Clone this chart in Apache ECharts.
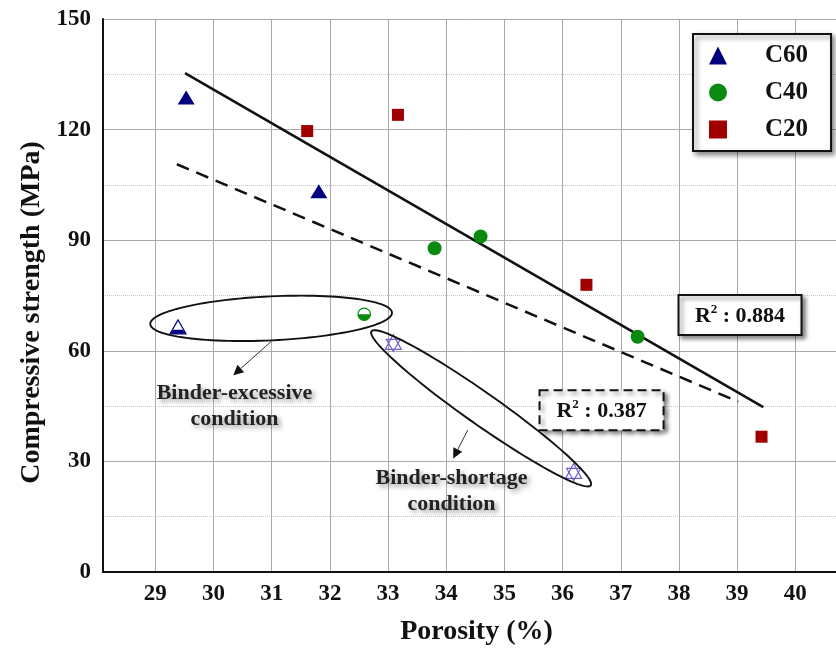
<!DOCTYPE html>
<html>
<head>
<meta charset="utf-8">
<title>Compressive strength vs porosity</title>
<script src="https://cdn.jsdelivr.net/npm/echarts@6.0.0/dist/echarts.min.js"></script>
<style>
  html, body { margin: 0; padding: 0; background: #fff; }
  #chart { width: 836px; height: 651px; }
</style>
</head>
<body>
<div id="chart"></div>
<script>
// values
var xTicks = [29, 30, 31, 32, 33, 34, 35, 36, 37, 38, 39, 40];
var yTicks = [0, 30, 60, 90, 120, 150];

var c60 = [[29.53, 128.7], [31.81, 103.3]];
var c40 = [[33.80, 87.8], [34.59, 91.0], [37.29, 63.8]];
var c20 = [[31.61, 119.6], [33.17, 124.0], [36.41, 77.9], [39.42, 36.7]];

// half-filled markers (binder-excessive): kind 0 = C60, 1 = C40
var excessive = [[29.39, 66.5, 0], [32.59, 69.9, 1]];
// outlined stars (binder-shortage)
var shortage = [[33.09, 62.0], [36.19, 27.0]];

// regression lines
var fitSolid = [[29.51, 135.3], [39.45, 44.7]];   // R2 0.884
var fitDashed = [[29.37, 110.6], [39.02, 46.2]];  // R2 0.387

var serif = "'Liberation Serif', 'Times New Roman', serif";
var cBlue = '#00007f', cGreen = '#0b8a12', cRed = '#a00000', cStar = '#6f60cc';

var chart = echarts.init(document.getElementById('chart'));

function halfMarker(params, api) {
  var p = api.coord([api.value(0), api.value(1)]);
  var x = p[0], y = p[1];
  if (api.value(2) === 0) {
    return {
      type: 'group',
      children: [
        { type: 'polygon', shape: { points: [[x, y - 7], [x - 8, y + 7], [x + 8, y + 7]] },
          style: { fill: '#fff', stroke: cBlue, lineWidth: 1.2 } },
        { type: 'polygon', shape: { points: [[x - 4.6, y + 3], [x + 4.6, y + 3], [x + 8, y + 7], [x - 8, y + 7]] },
          style: { fill: cBlue } }
      ]
    };
  }
  return {
    type: 'group',
    children: [
      { type: 'circle', shape: { cx: x, cy: y, r: 6.2 }, style: { fill: '#fff', stroke: cGreen, lineWidth: 1.2 } },
      { type: 'sector', shape: { cx: x, cy: y, r0: 0, r: 6.2, startAngle: 0, endAngle: Math.PI },
        style: { fill: cGreen } }
    ]
  };
}

function starMarker(params, api) {
  var p = api.coord([api.value(0), api.value(1)]);
  var x = p[0], y = p[1];
  var st = { fill: 'none', stroke: cStar, lineWidth: 1.2 };
  return {
    type: 'group',
    children: [
      { type: 'polygon', shape: { points: [[x, y - 9], [x - 8, y + 6], [x + 8, y + 6]] }, style: st },
      { type: 'polygon', shape: { points: [[x - 7, y - 4], [x + 7, y - 4], [x, y + 8]] }, style: st }
    ]
  };
}

var option = {
  animation: false,
  backgroundColor: '#fff',
  grid: { left: 103, right: 0, top: 19, bottom: 79, outerBoundsMode: 'none' },
  legend: {
    data: ['C60', 'C40', 'C20'],
    orient: 'vertical',
    left: 693, top: 34,
    padding: [9, 23, 9, 16],
    itemWidth: 18, itemHeight: 18, itemGap: 12,
    backgroundColor: '#fff',
    borderColor: '#111', borderWidth: 2, borderRadius: 0,
    shadowBlur: 5, shadowColor: 'rgba(0,0,0,0.45)', shadowOffsetX: 3, shadowOffsetY: 3,
    textStyle: { fontFamily: serif, fontWeight: 'bold', fontSize: 25, color: '#111', padding: [0, 0, 0, 33] }
  },
  xAxis: [{
    type: 'value', min: 28.1, max: 40.7,
    name: 'Porosity (%)', nameLocation: 'middle', nameGap: 46,
    nameTextStyle: { fontFamily: serif, fontWeight: 'bold', fontSize: 28, color: '#111', padding: [0, 0, 0, 14] },
    axisLine: { onZero: false, lineStyle: { color: '#111', width: 2 } },
    axisTick: { show: false, customValues: xTicks },
    axisLabel: { customValues: xTicks, margin: 11, fontFamily: serif, fontWeight: 'bold', fontSize: 23, color: '#111' },
    splitLine: { show: true, lineStyle: { color: '#aaa', width: 1 } }
  }, {
    type: 'value', min: 28.1, max: 40.7, position: 'top',
    axisLine: { lineStyle: { color: '#111', width: 2 } },
    axisTick: { show: false }, axisLabel: { show: false }, splitLine: { show: false }
  }],
  yAxis: {
    type: 'value', min: 0, max: 150, interval: 30,
    name: 'Compressive strength (MPa)', nameLocation: 'middle', nameGap: 56, nameRotate: 90,
    nameTextStyle: { fontFamily: serif, fontWeight: 'bold', fontSize: 28, color: '#111', padding: [0, 34, 0, 0] },
    axisLine: { show: true, lineStyle: { color: '#111', width: 2 } },
    axisTick: { show: false },
    axisLabel: { margin: 12, fontFamily: serif, fontWeight: 'bold', fontSize: 23, color: '#111' },
    splitLine: { show: true, lineStyle: { color: '#aaa', width: 1 } },
    minorTick: { show: false, splitNumber: 2 },
    minorSplitLine: { show: true, lineStyle: { color: '#c4c4c4', width: 1, type: 'dotted' } }
  },
  series: [
    { name: 'fit-solid', type: 'line', data: fitSolid, showSymbol: false, silent: true, z: 3,
      lineStyle: { color: '#111', width: 2.5 } },
    { name: 'fit-dashed', type: 'line', data: fitDashed, showSymbol: false, silent: true, z: 3,
      lineStyle: { color: '#111', width: 2.5, type: [13, 8] } },
    { name: 'C60', type: 'scatter', data: c60, symbol: 'triangle', symbolSize: [17, 14], z: 5,
      itemStyle: { color: cBlue, opacity: 1 } },
    { name: 'C40', type: 'scatter', data: c40, symbol: 'circle', symbolSize: 14, z: 5,
      itemStyle: { color: cGreen, opacity: 1 } },
    { name: 'C20', type: 'scatter', data: c20, symbol: 'rect', symbolSize: 12, z: 5,
      itemStyle: { color: cRed, opacity: 1 } },
    { name: 'excessive', type: 'custom', data: excessive, encode: { x: 0, y: 1 }, renderItem: halfMarker, z: 5 },
    { name: 'shortage', type: 'custom', data: shortage, encode: { x: 0, y: 1 }, renderItem: starMarker, z: 5 }
  ]
};
chart.setOption(option);

// annotations: anchors in data units, sizes in pixels
var ellipses = [
  { c: [30.99, 68.8], rx: 121, ry: 22, rot: -2.7 },
  { c: [34.60, 44.4], rx: 134, ry: 16, rot: 35.1 }
];
var arrows = [
  { from: [30.99, 62.5], to: [30.34, 53.4] },
  { from: [34.37, 38.5], to: [34.12, 30.8] }
];
var notes = [
  { at: [30.36, 45.0], text: 'Binder-excessive\ncondition' },
  { at: [34.09, 22.0], text: 'Binder-shortage\ncondition' }
];
var r2Boxes = [
  { at: [39.05, 69.7], value: '0.884', w: 123, h: 40, dash: null },
  { at: [36.67, 43.9], value: '0.387', w: 124, h: 40, dash: [9, 5] }
];

function toPx(v) {
  return chart.convertToPixel({ xAxisIndex: 0, yAxisIndex: 0 }, v);
}

function buildGraphic() {
  var g = [];
  ellipses.forEach(function (e) {
    var c = toPx(e.c), th = e.rot * Math.PI / 180, pts = [];
    for (var i = 0; i < 120; i++) {
      var t = i / 120 * Math.PI * 2;
      var a = e.rx * Math.cos(t), b = e.ry * Math.sin(t);
      pts.push([c[0] + a * Math.cos(th) - b * Math.sin(th), c[1] + a * Math.sin(th) + b * Math.cos(th)]);
    }
    g.push({ type: 'polygon', z: 50, silent: true, shape: { points: pts },
      style: { fill: 'none', stroke: '#111', lineWidth: 1.9 } });
  });
  arrows.forEach(function (a) {
    var p0 = toPx(a.from), p1 = toPx(a.to);
    var dx = p1[0] - p0[0], dy = p1[1] - p0[1], len = Math.sqrt(dx * dx + dy * dy);
    var ux = dx / len, uy = dy / len, hl = 10, hw = 5;
    var bx = p1[0] - ux * hl, by = p1[1] - uy * hl;
    g.push({ type: 'line', z: 50, silent: true, shape: { x1: p0[0], y1: p0[1], x2: bx, y2: by },
      style: { stroke: '#333', lineWidth: 1 } });
    g.push({ type: 'polygon', z: 50, silent: true,
      shape: { points: [p1, [bx - uy * hw, by + ux * hw], [bx + uy * hw, by - ux * hw]] },
      style: { fill: '#111' } });
  });
  notes.forEach(function (n) {
    var p = toPx(n.at);
    g.push({ type: 'text', z: 60, silent: true, x: p[0], y: p[1],
      style: { text: n.text, align: 'center', verticalAlign: 'middle', lineHeight: 26,
        fontFamily: serif, fontWeight: 'bold', fontSize: 22, fill: '#222',
        textShadowColor: 'rgba(0,0,0,0.4)', textShadowBlur: 5, textShadowOffsetX: 3, textShadowOffsetY: 3 } });
  });
  r2Boxes.forEach(function (b) {
    var p = toPx(b.at);
    g.push({ type: 'rect', z: 70, silent: true,
      shape: { x: p[0] - b.w / 2, y: p[1] - b.h / 2, width: b.w, height: b.h },
      style: { fill: '#fff', stroke: '#111', lineWidth: 2, lineDash: b.dash,
        shadowBlur: 4, shadowColor: 'rgba(0,0,0,0.45)', shadowOffsetX: 3, shadowOffsetY: 3 } });
    g.push({ type: 'text', z: 71, silent: true, x: p[0], y: p[1] + 1,
      style: { text: '{r|R}{s|2}{r| : ' + b.value + '}', align: 'center', verticalAlign: 'middle',
        rich: {
          r: { fontFamily: serif, fontWeight: 'bold', fontSize: 22, fill: '#111', lineHeight: 26 },
          s: { fontFamily: serif, fontWeight: 'bold', fontSize: 13, fill: '#111', verticalAlign: 'top', lineHeight: 26 }
        } } });
  });
  chart.setOption({ graphic: g });
}
buildGraphic();
</script>
</body>
</html>
